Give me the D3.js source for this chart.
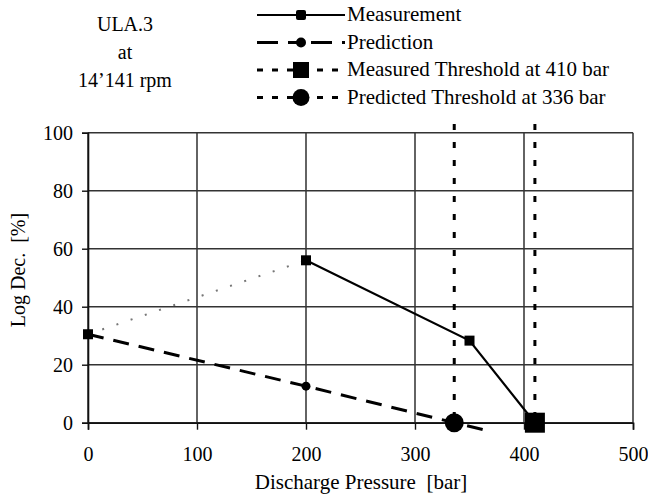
<!DOCTYPE html>
<html>
<head>
<script src="https://d3js.org/d3.v7.min.js"></script>
</head>
<body style="margin:0">
<script>

var w = 648, h = 497;
var fontFam = "'Liberation Serif', 'Times New Roman', Tinos, serif";

// data
var xTicks = [0, 100, 200, 300, 400, 500];
var yTicks = [0, 20, 40, 60, 80, 100];
var measPressure = [0, 200, 350, 410];
var measLogDec = [30.5, 56, 28.3, 0];
var predPressure = [0, 200, 336, 367];
var predLogDec = [30.5, 12.6, 0, -2.8];
var thresholdNames = ["Measured Threshold at 410 bar", "Predicted Threshold at 336 bar"];
var thresholdPressure = [410, 336];
var titleLines = ["ULA.3", "at", "14\u2019141 rpm"];

var svg = d3.select("body").append("svg").attr("width", w).attr("height", h);

var x = d3.scaleLinear().domain([0, 500]).range([88, 633]);
var y = d3.scaleLinear().domain([0, 100]).range([422.7, 132.7]);

// grid
svg.append("g").selectAll("line").data(xTicks).enter().append("line")
  .attr("x1", function(d){ return x(d); }).attr("x2", function(d){ return x(d); })
  .attr("y1", y(100)).attr("y2", y(0))
  .attr("stroke", "#222").attr("stroke-width", 1.4);
svg.append("g").selectAll("line").data(yTicks).enter().append("line")
  .attr("x1", x(0)).attr("x2", x(500))
  .attr("y1", function(d){ return y(d); }).attr("y2", function(d){ return y(d); })
  .attr("stroke", "#333").attr("stroke-width", 1.4);

// axes
var xAxis = svg.append("g").attr("transform", "translate(0," + y(0) + ")")
  .call(d3.axisBottom(x).tickValues(xTicks).tickSize(7).tickPadding(17));
var yAxis = svg.append("g").attr("transform", "translate(" + x(0) + ",0)")
  .call(d3.axisLeft(y).tickValues(yTicks).tickSize(6).tickPadding(9));
[xAxis, yAxis].forEach(function(a){
  a.attr("font-family", null).attr("font-size", null);
  a.select(".domain").attr("stroke", "#111").attr("stroke-width", 1.6);
  a.selectAll(".tick line").attr("stroke", "#111").attr("stroke-width", 1.4);
  a.selectAll("text").attr("fill", "#000").attr("font-family", fontFam).attr("font-size", 20);
});

var line = d3.line().x(function(d){ return x(d[0]); }).y(function(d){ return y(d[1]); });
var meas = d3.zip(measPressure, measLogDec);
var pred = d3.zip(predPressure, predLogDec);

// threshold lines
svg.append("g").selectAll("line").data(thresholdPressure).enter().append("line")
  .attr("x1", function(d){ return x(d); }).attr("x2", function(d){ return x(d); })
  .attr("y1", y(103)).attr("y2", y(0))
  .attr("stroke", "#000").attr("stroke-width", 3).attr("stroke-dasharray", "6,12");

// prediction
svg.append("path").datum(pred).attr("d", line)
  .attr("fill", "none").attr("stroke", "#000").attr("stroke-width", 3)
  .attr("stroke-dasharray", "16,10");

// measurement: first segment dotted grey, rest solid
svg.append("path").datum(meas.slice(0, 2)).attr("d", line)
  .attr("fill", "none").attr("stroke", "#777").attr("stroke-width", 2)
  .attr("stroke-dasharray", "2,13");
svg.append("path").datum(meas.slice(1)).attr("d", line)
  .attr("fill", "none").attr("stroke", "#000").attr("stroke-width", 2.2);

// markers
svg.append("g").selectAll("rect").data(meas.slice(0, 3)).enter().append("rect")
  .attr("x", function(d){ return x(d[0]) - 5; }).attr("y", function(d){ return y(d[1]) - 5; })
  .attr("width", 10).attr("height", 10).attr("fill", "#000");
svg.append("circle").attr("cx", x(pred[1][0])).attr("cy", y(pred[1][1])).attr("r", 4.5).attr("fill", "#000");
svg.append("rect").attr("x", x(thresholdPressure[0]) - 10).attr("y", y(0) - 10)
  .attr("width", 20).attr("height", 20).attr("fill", "#000");
svg.append("circle").attr("cx", x(thresholdPressure[1])).attr("cy", y(0)).attr("r", 9.5).attr("fill", "#000");

// axis titles
svg.append("text").attr("x", 361).attr("y", 489).attr("text-anchor", "middle")
  .attr("xml:space", "preserve")
  .attr("font-family", fontFam).attr("font-size", 21).text("Discharge Pressure  [bar]");
svg.append("text").attr("transform", "translate(25,270) rotate(-90)").attr("text-anchor", "middle")
  .attr("xml:space", "preserve")
  .attr("font-family", fontFam).attr("font-size", 20).text("Log Dec.  [%]");

// title block
svg.append("g").selectAll("text").data(titleLines).enter().append("text")
  .attr("x", 125).attr("y", function(d, i){ return 31 + i * 28; })
  .attr("text-anchor", "middle").attr("font-family", fontFam).attr("font-size", 20)
  .text(function(d){ return d; });

// legend
var legNames = ["Measurement", "Prediction"].concat(thresholdNames);
var lx0 = 257, lx1 = 345, lmid = 301;
var leg = svg.append("g").selectAll("g").data(legNames).enter().append("g")
  .attr("transform", function(d, i){ return "translate(0," + (15 + i * 27.5) + ")"; });
leg.append("line").attr("x1", lx0).attr("x2", lx1).attr("y1", 0).attr("y2", 0)
  .attr("stroke", "#000")
  .attr("stroke-width", function(d, i){ return i == 0 ? 2.2 : 3; })
  .attr("stroke-dasharray", function(d, i){
    if(i == 0) return null;
    if(i == 1) return "21,10,13,10";
    return "6,9";
  });
leg.append("text").attr("x", 347).attr("y", 6).attr("font-family", fontFam).attr("font-size", 21)
  .text(function(d){ return d; });
leg.each(function(d, i){
  var g = d3.select(this);
  if(i == 0) g.append("rect").attr("x", lmid - 5).attr("y", -5).attr("width", 10).attr("height", 10).attr("rx", 2).attr("fill", "#000");
  if(i == 1) g.append("circle").attr("cx", lmid).attr("cy", 0).attr("r", 5).attr("fill", "#000");
  if(i == 2) g.append("rect").attr("x", lmid - 8).attr("y", -8).attr("width", 16).attr("height", 16).attr("fill", "#000");
  if(i == 3) g.append("circle").attr("cx", lmid).attr("cy", 0).attr("r", 8.5).attr("fill", "#000");
});

</script>
</body>
</html>
